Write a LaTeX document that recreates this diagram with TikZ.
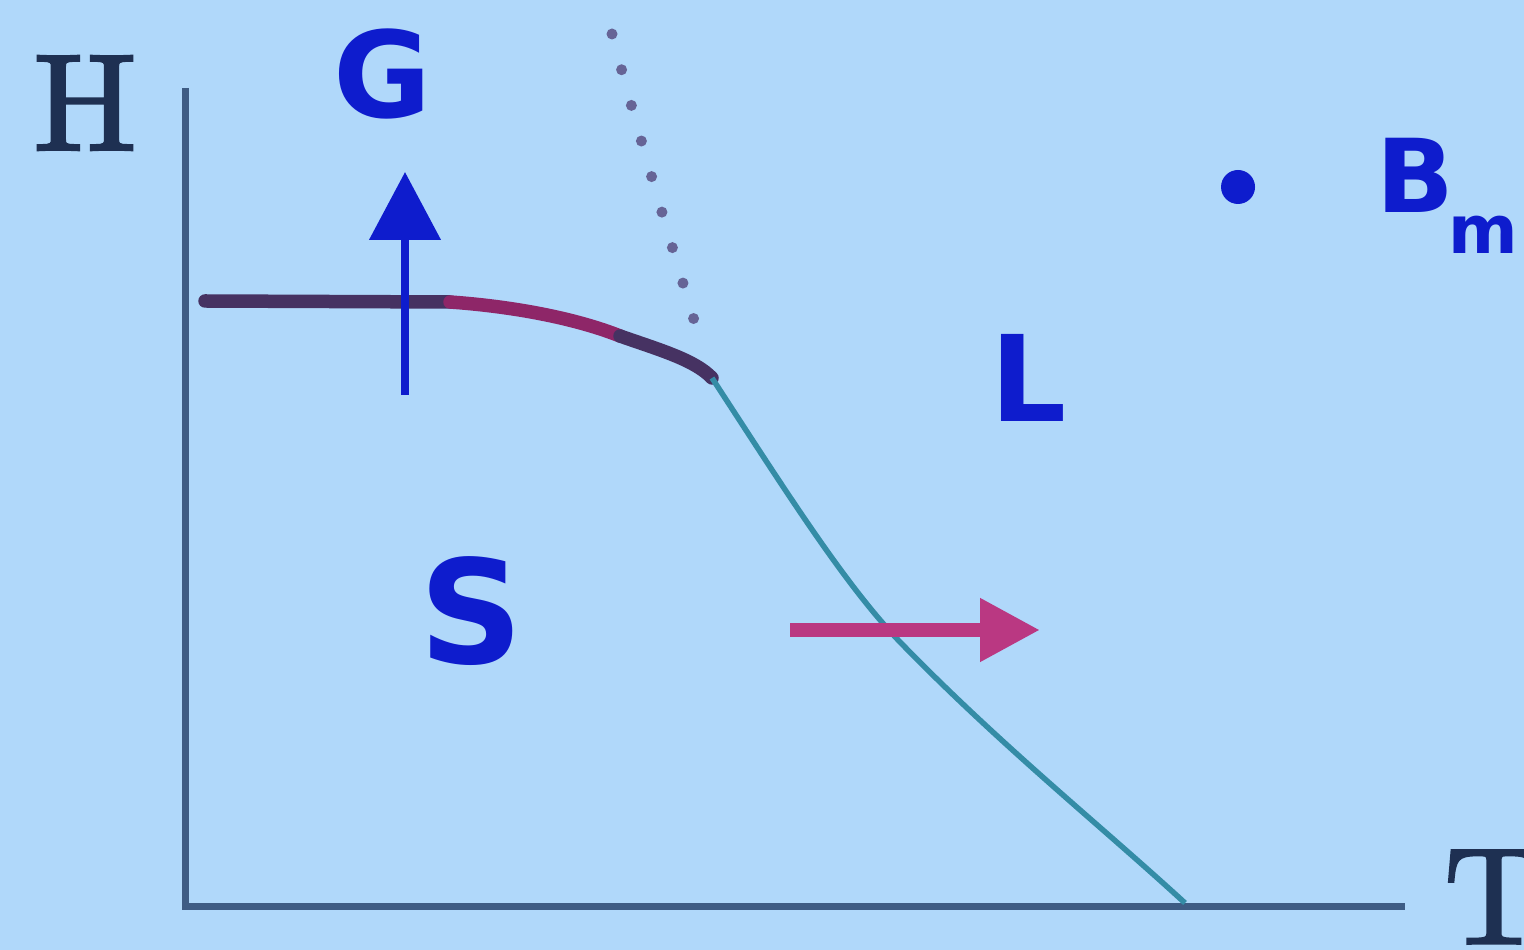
\documentclass[tikz,border=0pt]{standalone}
\usepackage{fontspec}
\setsansfont{DejaVu Sans}
\newfontfamily\axisfont[FakeBold=2.2]{lmroman10-regular.otf}
\usepackage{xcolor}
\usetikzlibrary{arrows.meta,positioning}
\definecolor{bgblue}{RGB}{176,216,250}
\definecolor{axisgray}{RGB}{62,92,132}
\definecolor{labeldark}{RGB}{30,48,82}
\definecolor{phaseblue}{RGB}{14,28,205}
\definecolor{curvedark}{RGB}{70,50,98}
\definecolor{curvemag}{RGB}{142,38,104}
\definecolor{meltteal}{RGB}{52,140,166}
\definecolor{dotgray}{RGB}{102,100,150}
\definecolor{arrowpink}{RGB}{186,56,130}

\begin{document}
\begin{tikzpicture}[x=0.1mm, y=-0.1mm, >=Latex]
\tikzstyle{axis}=[draw=axisgray, line width=0.7mm]
\tikzstyle{axislabel}=[font=\axisfont\fontsize{39}{39}\selectfont, text=labeldark, inner sep=0]
\tikzstyle{phase}=[font=\sffamily\bfseries\fontsize{34}{34}\selectfont, text=phaseblue, inner sep=0]
\tikzstyle{boil}=[line width=1.35mm, line cap=round]
\fill[bgblue] (0,0) rectangle (1524,950);
\useasboundingbox (0,0) rectangle (1524,950);
% axes
\coordinate (origin) at (185,906);
\coordinate (ytop) at (185,88);
\coordinate (xend) at (1405,906);
\draw[axis] (ytop) -- (origin) -- (xend);
\node[axislabel] (hlabel) at (85,103) {H};
\node[axislabel] (tlabel) at (1494,897) {T};
% phase labels
\node[phase] (gas) at (383,74) {G};
\node[phase, font=\sffamily\bfseries\fontsize{41}{41}\selectfont] (solid) at (471,611) {S};
\node[phase, font=\sffamily\bfseries\fontsize{34}{34}\selectfont] (liquid) at (1029,378) {L};
\node[phase, font=\sffamily\bfseries\fontsize{29}{29}\selectfont, anchor=base west] (bm) at (1376,213) {B\kern-0.06em\raisebox{-0.4em}{\fontsize{19}{19}\selectfont m}};
\node[circle, fill=phaseblue, inner sep=0, minimum size=3.4mm] (bmdot) at (1238,187) {};
% phase boundary
\coordinate (c0) at (205,301);
\coordinate (c1) at (450,302);
\coordinate (c2) at (620,336);
\coordinate (c3) at (712,378);
\coordinate (c4) at (900,642);
\coordinate (c5) at (1185,903);
\draw[boil, draw=curvedark] (c0) -- (c1);
\draw[boil, draw=curvemag] (c1) .. controls (520,307) and (580,320) .. (c2);
\draw[boil, draw=curvedark] (c2) .. controls (660,350) and (695,360) .. (c3);
\draw[meltteal, line width=0.55mm] (c3) .. controls (785,490) and (845,585) .. (c4)
  .. controls (1000,745) and (1100,825) .. (c5);
% dotted extension
\coordinate (d0) at (612,34);
\coordinate (d1) at (700,340);
\draw[dotgray, line width=1.1mm, line cap=round, dash pattern=on 0pt off 3.7mm] (d0) .. controls (640,140) and (670,240) .. (d1);
% arrows
\coordinate (gbase) at (405,395);
\coordinate (gtip) at (405,172);
\draw[phaseblue, line width=0.8mm, -{Triangle[width=7mm,length=6.8mm]}] (gbase) -- (gtip);
\coordinate (pbase) at (790,630);
\coordinate (ptip) at (1040,630);
\draw[arrowpink, line width=1.4mm, -{Triangle[width=6mm,length=6mm]}] (pbase) -- (ptip);
\end{tikzpicture}
\end{document}
